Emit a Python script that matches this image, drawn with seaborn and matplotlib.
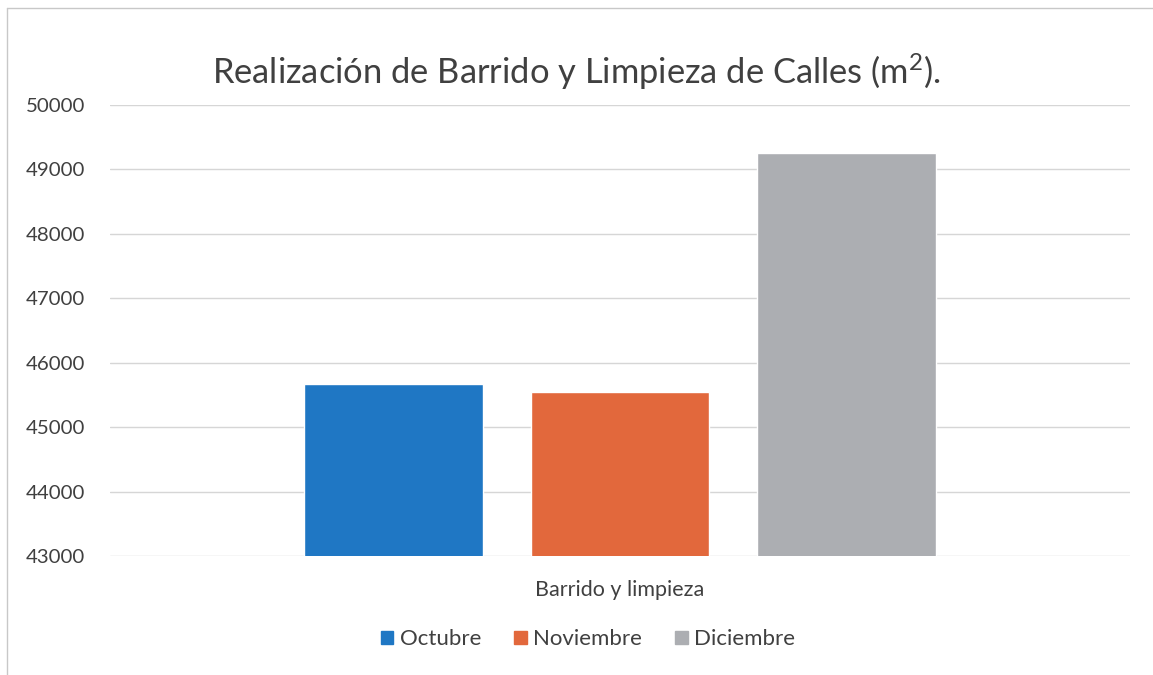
import numpy as np
import pandas as pd
import matplotlib
matplotlib.use('Agg')
import matplotlib.pyplot as plt
import seaborn as sns
from matplotlib.patches import Rectangle
from matplotlib.lines import Line2D

# datos
categoria = ['Barrido y limpieza']
meses = ['Octubre', 'Noviembre', 'Diciembre']
valores = [45670, 45550, 49260]
colores = ['#1f77c4', '#e2683c', '#acaeb2']
y_ticks = [43000, 44000, 45000, 46000, 47000, 48000, 49000, 50000]

df = pd.DataFrame({'Actividad': categoria * len(meses), 'Mes': meses, 'm2': valores})

sns.set_theme(style='white')
plt.rcParams['font.family'] = ['Lato', 'DejaVu Sans']
plt.rcParams['mathtext.fontset'] = 'custom'
plt.rcParams['mathtext.rm'] = 'Lato'

fig = plt.figure(figsize=(11.53, 6.75), dpi=100)
ax = fig.add_axes([0.0954, 0.1763, 0.8846, 0.6681])

sns.barplot(data=df, x='Actividad', y='m2', hue='Mes', hue_order=meses,
            palette=colores, width=0.666, gap=0.21, saturation=1,
            ax=ax, legend=False)

ax.set_ylim(43000, 50000)
ax.set_xlim(-0.5, 0.5)
ax.set_yticks(y_ticks)
ax.set_yticklabels([str(v) for v in y_ticks], fontsize=14.7, color='#404040')
ax.yaxis.grid(True, color='#d6d6d6', linewidth=1)
ax.set_axisbelow(True)
ax.tick_params(axis='y', length=0, pad=18)
ax.tick_params(axis='x', length=0, labelsize=15.5, labelcolor='#404040', pad=17)
ax.set_xlabel('')
ax.set_ylabel('')
sns.despine(ax=ax, left=True, bottom=True)

fig.text(0.5, 0.893, 'Realización de Barrido y Limpieza de Calles (m$\\mathrm{^2}$).',
         ha='center', va='center', fontsize=24.8, color='#404040')

handles = [Rectangle((0, 0), 1, 1, color=c) for c in colores]
fig.legend(handles, meses, loc='center', bbox_to_anchor=(0.51, 0.053), ncol=3,
           frameon=False, fontsize=16, handlelength=0.55, handleheight=0.55,
           handletextpad=0.3, columnspacing=1.5, labelcolor='#404040')

# marco del gráfico (solo borde superior e izquierdo visibles)
fig.lines.append(Line2D([0.006, 0.006], [0.0, 0.988], transform=fig.transFigure,
                        color='#c8c8c8', linewidth=1))
fig.lines.append(Line2D([0.006, 1.0], [0.988, 0.988], transform=fig.transFigure,
                        color='#c8c8c8', linewidth=1))

fig.savefig('out.png', dpi=100)
